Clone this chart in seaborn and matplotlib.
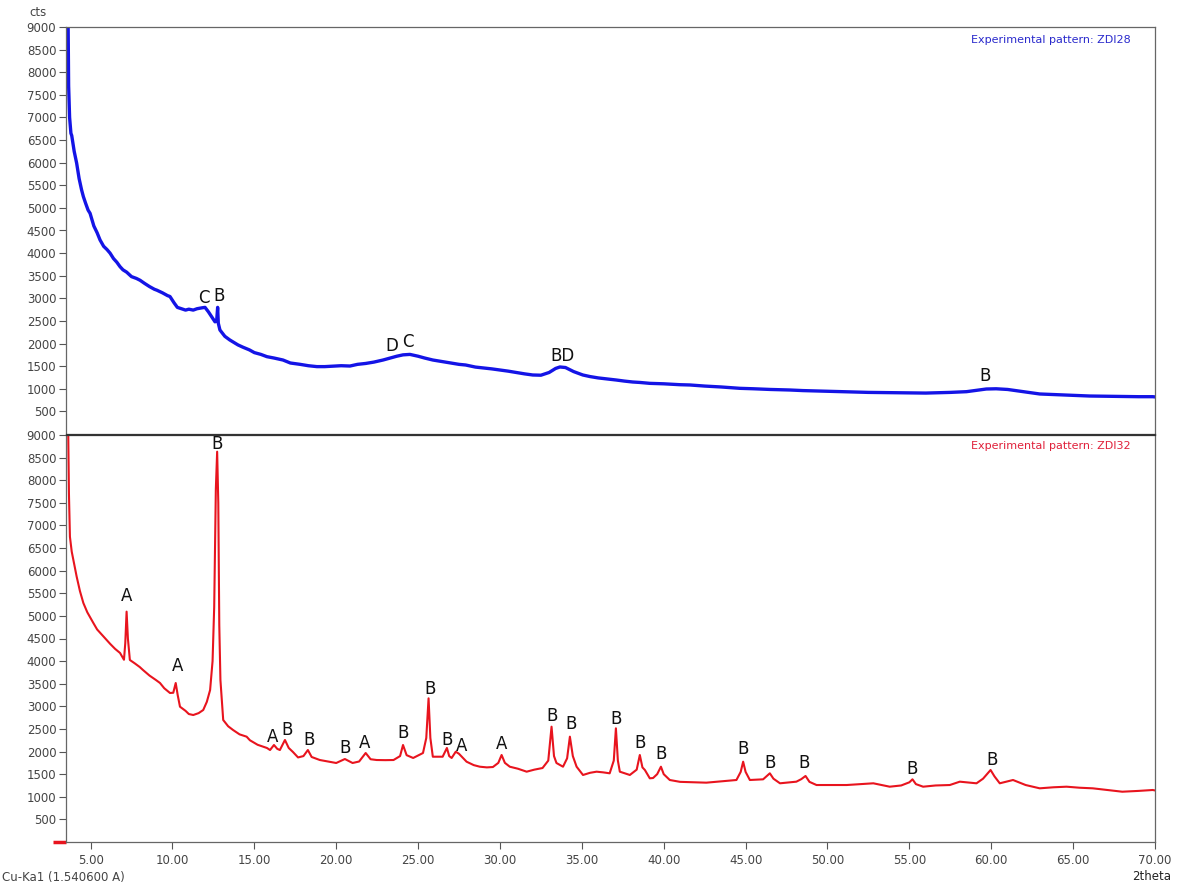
import numpy as np
import pandas as pd
import matplotlib
matplotlib.use("Agg")
import matplotlib.pyplot as plt
import seaborn as sns

# ---- data ----
zdi28_x = [3.52, 3.62, 3.66, 3.72, 3.80, 3.85, 4.00, 4.15, 4.30, 4.45, 4.56, 4.70, 4.85, 4.97, 5.20,
           5.40, 5.58, 5.80, 6.00, 6.19, 6.40, 6.60, 6.80, 6.98, 7.20, 7.50, 7.80, 8.02, 8.30, 8.60,
           8.90, 9.05, 9.40, 9.70, 9.85, 10.10, 10.30, 10.46, 10.80, 11.00, 11.27, 11.50, 11.80, 11.99,
           12.20, 12.40, 12.60, 12.70, 12.76, 12.80, 12.90, 13.20, 13.50, 13.70, 14.00, 14.30, 14.70,
           15.00, 15.40, 15.77, 16.20, 16.75, 17.20, 17.80, 18.30, 18.82, 19.30, 19.80, 20.30, 20.84,
           21.30, 21.80, 22.30, 22.86, 23.30, 23.70, 24.08, 24.50, 25.00, 25.40, 25.90, 26.50, 27.00,
           27.50, 27.90, 28.50, 29.00, 29.50, 29.99, 30.50, 31.00, 31.50, 32.00, 32.50, 33.00, 33.40,
           33.66, 34.00, 34.50, 35.06, 35.50, 36.00, 36.50, 37.10, 37.60, 38.10, 38.54, 39.15, 40.00,
           41.00, 41.60, 42.50, 43.50, 44.65, 45.50, 46.50, 47.70, 48.50, 49.50, 50.75, 51.50, 52.50,
           53.80, 55.00, 56.00, 56.86, 57.50, 58.49, 59.00, 59.70, 60.30, 61.00, 61.54, 62.30, 62.96,
           64.00, 65.00, 66.00, 67.00, 68.00, 69.00, 69.86, 70.00]
zdi28_y = [12000, 9500, 7700, 7000, 6650, 6600, 6250, 5990, 5650, 5400, 5250, 5100, 4950, 4880, 4600,
           4450, 4290, 4150, 4080, 4000, 3880, 3800, 3700, 3630, 3580, 3480, 3440, 3400, 3330, 3260,
           3200, 3180, 3120, 3060, 3040, 2900, 2800, 2780, 2740, 2760, 2740, 2770, 2790, 2800,
           2700, 2590, 2480, 2500, 2800, 2450, 2300, 2160, 2080, 2035, 1970, 1920, 1860,
           1800, 1760, 1710, 1680, 1636, 1570, 1540, 1510, 1490, 1490, 1500, 1510, 1503,
           1540, 1560, 1590, 1636, 1680, 1720, 1750, 1760, 1720, 1680, 1636, 1600, 1570,
           1540, 1526, 1480, 1460, 1440, 1415, 1390, 1360, 1330, 1305, 1300, 1360, 1450,
           1482, 1470, 1380, 1305, 1270, 1240, 1220, 1194, 1170, 1150, 1140, 1120, 1110,
           1090, 1084, 1060, 1040, 1010, 1000, 985, 973, 960, 950, 936, 930, 920,
           914, 910, 905, 914, 920, 936, 960, 995, 1000, 985, 958, 920, 885,
           870, 855, 840, 835, 830, 825, 825, 820]

zdi32_x = [3.52, 3.62, 3.68, 3.74, 3.85, 4.00, 4.15, 4.35, 4.56, 4.80, 5.00, 5.17, 5.40, 5.70, 5.98,
           6.20, 6.50, 6.80, 7.04, 7.12, 7.20, 7.28, 7.40, 7.70, 8.00, 8.20, 8.60, 9.00, 9.24, 9.50,
           9.85, 10.05, 10.20, 10.32, 10.46, 10.80, 11.00, 11.27, 11.60, 11.88, 12.10, 12.30, 12.45,
           12.55, 12.65, 12.73, 12.80, 12.86, 12.93, 13.10, 13.40, 13.70, 14.10, 14.53, 14.73, 15.20,
           15.77, 15.96, 16.20, 16.40, 16.56, 16.87, 17.10, 17.36, 17.67, 18.00, 18.27, 18.50, 19.00,
           19.50, 20.00, 20.53, 21.00, 21.40, 21.80, 22.10, 22.47, 23.00, 23.50, 23.90, 24.08, 24.30,
           24.70, 25.30, 25.50, 25.64, 25.75, 25.90, 26.50, 26.76, 26.90, 27.05, 27.30, 27.50, 27.96,
           28.40, 28.77, 29.20, 29.57, 29.90, 30.10, 30.30, 30.60, 31.10, 31.63, 32.10, 32.60, 32.95,
           33.15, 33.30, 33.45, 33.85, 34.10, 34.27, 34.45, 34.68, 35.07, 35.50, 35.90, 36.30, 36.70,
           36.95, 37.08, 37.20, 37.32, 37.93, 38.35, 38.54, 38.70, 38.85, 39.15, 39.35, 39.60, 39.83,
           40.00, 40.37, 41.00, 41.80, 42.60, 43.50, 44.44, 44.70, 44.85, 45.00, 45.26, 46.07, 46.48,
           46.70, 47.10, 48.10, 48.40, 48.66, 48.90, 49.33, 50.20, 51.17, 52.00, 52.80, 53.80, 54.50,
           55.00, 55.19, 55.40, 55.84, 56.60, 57.47, 58.08, 59.10, 59.50, 59.96, 60.20, 60.52, 61.33,
           62.10, 62.96, 63.80, 64.60, 65.40, 66.20, 67.10, 68.00, 69.00, 69.86, 70.00]
zdi32_y = [12000, 9500, 7700, 6750, 6420, 6150, 5870, 5550, 5285, 5080, 4950, 4843, 4700, 4580, 4467,
           4380, 4270, 4180, 4030, 4400, 5094, 4500, 4025, 3950, 3870, 3804, 3680, 3580, 3516, 3400,
           3295, 3300, 3516, 3250, 2992, 2900, 2830, 2808, 2850, 2919, 3100, 3361, 4000,
           5200, 7800, 8631, 7500, 4800, 3582, 2698, 2560, 2477, 2380, 2329, 2250, 2150,
           2079, 2034, 2145, 2060, 2034, 2256, 2080, 1990, 1870, 1900, 2034, 1880, 1813,
           1780, 1747, 1835, 1747, 1780, 1968, 1830, 1813, 1810, 1813, 1900, 2145, 1920,
           1858, 1968, 2300, 3177, 2300, 1886, 1886, 2079, 1900, 1858, 1997, 1950, 1776,
           1700, 1665, 1650, 1658, 1750, 1924, 1750, 1665, 1620, 1555, 1600, 1636, 1800,
           2550, 1900, 1747, 1665, 1850, 2329, 1900, 1665, 1482, 1530, 1555, 1540, 1519,
           1800, 2514, 1800, 1555, 1482, 1600, 1924, 1650, 1592, 1408, 1415, 1500, 1665,
           1500, 1371, 1330, 1320, 1312, 1340, 1371, 1550, 1776, 1550, 1371, 1386, 1519,
           1400, 1298, 1334, 1390, 1460, 1330, 1260, 1260, 1260, 1280, 1298, 1223, 1250,
           1320, 1386, 1280, 1223, 1250, 1260, 1334, 1298, 1400, 1592, 1450, 1298, 1371,
           1260, 1187, 1210, 1223, 1200, 1187, 1150, 1112, 1130, 1150, 1140]

top_labels = ["C", "B", "D", "C", "BD", "B"]
top_label_x = [11.92, 12.84, 23.40, 24.38, 33.84, 59.60]
top_label_y = [3008, 3052, 1946, 2035, 1725, 1283]

bot_labels = ["A", "A", "B", "A", "B", "B", "B", "A", "B", "B", "B", "A", "A", "B", "B",
              "B", "B", "B", "B", "B", "B", "B", "B"]
bot_label_x = [7.22, 10.34, 12.72, 16.14, 16.99, 18.34, 20.53, 21.75, 24.07, 25.72, 26.76, 27.68,
               30.12, 33.17, 34.33, 37.08, 38.54, 39.83, 44.83, 46.48, 48.60, 55.15, 60.03]
bot_label_y = [5440, 3892, 8802, 2322, 2477, 2256, 2079, 2189, 2410, 3383, 2256, 2123, 2167,
               2786, 2609, 2720, 2189, 1946, 2057, 1747, 1747, 1614, 1813]

y_ticks = list(range(500, 9001, 500))
x_ticks = [5, 10, 15, 20, 25, 30, 35, 40, 45, 50, 55, 60, 65, 70]

# ---- drawing ----
sns.set_theme(style="white")
plt.rcParams['font.family'] = ['DejaVu Sans']

W, H = 1180, 883
fig = plt.figure(figsize=(W / 100, H / 100), dpi=100)
L, R = 66 / W, 1155 / W
ax1 = fig.add_axes([L, 1 - 434 / H, R - L, (434 - 27) / H])
ax2 = fig.add_axes([L, 1 - 842 / H, R - L, (842 - 435) / H])

df1 = pd.DataFrame({"x": zdi28_x, "y": zdi28_y})
df2 = pd.DataFrame({"x": zdi32_x, "y": zdi32_y})
sns.lineplot(data=df1, x="x", y="y", ax=ax1, color="#1414e6", lw=2.4, sort=False, estimator=None)
sns.lineplot(data=df2, x="x", y="y", ax=ax2, color="#e8141e", lw=1.5, sort=False, estimator=None)

tick_col = "#555555"
for ax in (ax1, ax2):
    ax.set_xlim(3.5, 70)
    ax.set_ylim(0, 9000)
    ax.set_yticks(y_ticks)
    ax.set_yticklabels([str(v) for v in y_ticks], fontsize=8.5, color="#444444")
    ax.tick_params(axis="y", direction="out", length=5, width=0.8, color=tick_col, pad=2, left=True)
    ax.set_xlabel("")
    ax.set_ylabel("")
    for s in ax.spines.values():
        s.set_color("#666666")
        s.set_linewidth(0.9)

ax1.set_xticks([])
ax1.spines["bottom"].set_color("#333333")
ax2.spines["top"].set_color("#333333")
ax2.set_xticks(x_ticks)
ax2.set_xticklabels([f"{v:.2f}" for v in x_ticks], fontsize=8.5, color="#444444")
ax2.tick_params(axis="x", direction="out", length=5, width=0.8, color=tick_col, pad=4, bottom=True)

for t, x, y in zip(top_labels, top_label_x, top_label_y):
    ax1.text(x, y, t, ha="center", va="center", fontsize=12, color="#111111")
for t, x, y in zip(bot_labels, bot_label_x, bot_label_y):
    ax2.text(x, y, t, ha="center", va="center", fontsize=12, color="#111111")

ax1.text(0.9775, 0.968, "Experimental pattern: ZDI28", transform=ax1.transAxes, ha="right",
         va="center", fontsize=8, color="#2a2acc")
ax2.text(0.9775, 0.972, "Experimental pattern: ZDI32", transform=ax2.transAxes, ha="right",
         va="center", fontsize=8, color="#e0203a")

# red marker at bottom left of lower panel
ax2.plot([-0.012, 0.0], [0, 0], transform=ax2.transAxes, color="#e8141e", lw=2.5,
         clip_on=False, solid_capstyle="butt")

fig.text(38 / W, 1 - 13 / H, "cts", fontsize=8.5, color="#444444", ha="center", va="center")
fig.text(2 / W, 1 - 877 / H, "Cu-Ka1 (1.540600 A)", fontsize=8.5, color="#444444", ha="left", va="center")
fig.text(1152 / W, 1 - 876 / H, "2theta", fontsize=8.5, color="#222222", ha="center", va="center")

fig.savefig("out.png", dpi=100)
